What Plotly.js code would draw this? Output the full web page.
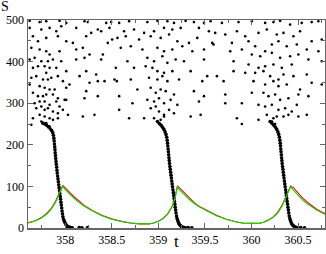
<!DOCTYPE html>
<html>
<head>
<meta charset="utf-8">
<script src="https://cdn.plot.ly/plotly-3.0.1.min.js"></script>
<style>
  html, body { margin: 0; padding: 0; background: #fff; }
  #chart { width: 326px; height: 254px; }
</style>
</head>
<body>
<div id="chart"></div>
<script>
// tick positions
const X_TICKS = [358, 358.5, 359, 359.5, 360, 360.5];
const Y_TICKS = [0, 100, 200, 300, 400, 500];

// sparse cloud of points, one list per cycle
const CLOUD_1_T = [357.618,357.725,357.796,357.939,358.011,358.207,358.243,358.44,358.493,
  357.618,357.743,357.832,357.904,357.957,358.118,358.279,358.35,358.475,
  357.653,357.707,357.796,357.921,358.011,358.082,358.225,358.386,358.457,358.504,
  357.636,357.725,357.796,357.832,357.939,358.118,358.189,358.261,358.404,
  357.618,357.671,357.743,357.814,357.868,357.957,358.118,358.207,358.386,
  357.653,357.707,357.779,357.832,357.796,357.904,358.011,358.154,358.225,358.332,358.422,358.529,
  357.636,357.689,357.761,357.814,357.85,357.921,357.975,358.046,358.261,358.35,
  357.618,357.725,357.779,357.832,357.886,358.011,358.225,
  357.653,357.707,357.761,357.796,357.868,357.921,357.993,358.35,
  357.671,357.725,357.779,357.832,357.904,357.939,358.011,358.207,
  357.689,357.743,357.779,357.814,357.868,357.921,357.975,358.029,358.189,358.314,
  357.653,357.725,357.779,357.832,357.868,357.921,
  357.636,357.743,357.796,357.832];
const CLOUD_1_S = [498,495,497,498,493,497,495,493,495,
  481,477,481,473,485,481,469,477,481,
  461,449,457,461,449,445,461,473,445,453,
  433,429,425,417,425,429,433,417,417,
  405,409,401,401,405,401,405,409,405,
  385,389,389,385,373,385,377,365,377,369,353,357,
  361,365,357,357,361,365,353,345,349,353,
  345,341,337,333,333,337,329,
  325,317,317,321,321,312,308,317,
  300,304,304,296,304,292,308,312,
  288,292,284,288,280,276,284,272,268,272,
  264,272,268,264,260,264,
  248,256,252,244];

const CLOUD_2_T = [358.579,358.686,358.882,358.99,359.097,359.168,359.293,359.382,359.49,359.561,
  358.632,358.739,358.847,358.954,359.061,359.15,359.24,359.436,359.543,
  358.561,358.65,358.793,358.918,359.025,359.115,359.204,359.329,359.418,359.579,
  358.596,358.704,358.829,358.99,359.061,359.15,359.257,359.365,359.49,
  358.668,358.882,358.954,359.043,359.097,359.186,359.275,359.49,
  358.543,358.739,358.864,358.936,358.99,359.061,359.15,359.347,359.525,
  358.554,358.704,358.9,358.99,359.043,359.097,359.222,359.472,
  358.579,358.775,358.918,358.972,359.025,359.079,359.168,359.382,359.49,
  358.722,358.882,358.954,359.007,359.061,359.132,359.204,359.436,
  358.686,358.847,358.918,358.972,359.007,359.061,359.115,359.168,359.347,359.454,
  358.579,358.954,359.025,359.061];
const CLOUD_2_S = [493,497,495,498,497,493,498,495,493,497,
  473,477,469,473,481,477,481,481,473,
  457,461,453,461,457,465,449,445,457,445,
  433,437,429,433,425,429,437,425,429,
  401,409,401,413,397,405,401,405,
  385,385,389,385,377,373,377,377,365,
  353,357,361,357,365,353,357,353,
  317,333,337,325,333,329,321,329,317,
  300,308,304,312,300,308,296,304,
  264,264,288,292,280,272,284,276,268,272,
  284,264,260,268];

const CLOUD_3_T = [359.683,359.861,360.004,360.147,360.236,360.308,360.415,360.54,360.647,360.719,
  359.611,359.719,359.844,359.933,360.076,360.165,360.272,360.344,360.451,360.522,360.755,
  359.593,359.79,359.969,360.04,360.219,360.29,360.379,360.487,360.594,360.647,
  359.772,359.897,360.004,360.094,360.147,360.219,360.308,360.415,360.504,360.719,
  359.808,359.969,360.076,360.147,360.236,360.326,360.433,360.612,360.755,
  359.808,359.933,360.04,360.129,360.201,360.29,360.344,360.451,360.594,
  359.629,359.701,360.022,360.147,360.236,360.29,360.379,360.522,360.647,360.755,
  359.719,360.004,360.129,360.183,360.254,360.308,360.397,360.504,360.612,
  359.719,359.897,360.076,360.147,360.219,360.29,360.362,360.433,360.487,
  359.844,359.897,360.076,360.165,360.236,360.272,360.344,360.397,360.504,360.594,
  360.219,360.254];
const CLOUD_3_S = [493,495,497,493,495,498,489,493,495,497,
  469,465,473,461,469,477,465,469,461,473,453,
  441,445,449,437,441,449,437,441,429,449,
  425,429,417,413,425,421,409,413,417,425,
  401,393,385,389,393,385,393,405,401,
  377,373,373,377,365,357,369,365,369,
  365,353,353,345,353,341,345,333,349,345,
  321,325,325,317,321,308,312,321,317,
  300,300,296,292,296,284,288,280,296,
  264,250,260,272,264,268,268,272,268,272,
  256,250];

// dense falling band of points, one list per cycle
const DENSE_1_T = [357.76,357.78,357.8,357.82,357.84,357.855,357.866,357.873,357.878,357.881,357.884,357.887,
  357.89,357.892,357.895,357.898,357.901,357.904,357.908,357.911,357.914,357.918,357.922,357.926,357.93,
  357.934,357.938,357.942,357.946,357.95,357.954,357.958,357.962,357.966,357.97,357.975,357.982,357.99,
  357.998,358.008,358.018,358.03,358.045,358.06,358.075,358.15,358.18,358.24];
const DENSE_1_S = [252,250,247,243,238,234,229,223,216,209,202,195,
  188,181,174,167,160,153,146,139,132,125,118,111,104,
  97,90,83,76,69,62,55,48,41,34,27,21,16,
  12,8,5,3,2,1,0.5,1,0.5,1];

const DENSE_2_T = [358.99,359.01,359.03,359.045,359.06,359.072,359.082,359.09,359.095,359.099,359.102,359.105,
  359.108,359.111,359.114,359.117,359.12,359.124,359.128,359.132,359.136,359.14,359.144,359.148,359.152,
  359.157,359.161,359.165,359.169,359.173,359.177,359.181,359.186,359.19,359.195,359.201,359.208,359.216,
  359.225,359.235,359.247,359.26,359.275,359.29,359.32,359.36];
const DENSE_2_S = [256,251,247,242,237,231,225,218,211,204,197,190,
  183,176,169,162,155,148,141,134,127,120,113,106,99,
  92,85,78,71,64,57,50,43,36,29,23,18,13,
  9,6,4,2,1,0.5,1,0.5];

const DENSE_3_T = [360.2,360.22,360.24,360.258,360.272,360.284,360.293,360.3,360.305,360.309,360.312,360.315,
  360.318,360.321,360.324,360.327,360.33,360.334,360.338,360.342,360.346,360.35,360.354,360.358,360.362,
  360.367,360.371,360.375,360.379,360.383,360.388,360.392,360.397,360.401,360.406,360.412,360.419,360.427,
  360.436,360.446,360.458,360.47,360.485,360.5,360.53,360.57];
const DENSE_3_S = [256,252,247,242,237,231,225,218,211,204,197,190,
  183,176,169,162,155,148,141,134,127,120,113,106,99,
  92,85,78,71,64,57,50,43,36,29,23,18,13,
  9,6,4,2,1,0.5,1,0.5];

// the two smooth curves
const CURVE_T = [357.6,357.65,357.7,357.75,357.8,357.85,357.9,357.93,357.955,357.975,358.0,358.05,358.1,358.15,
  358.2,358.3,358.4,358.5,358.6,358.7,358.8,358.9,358.95,359.0,359.05,359.1,359.15,359.18,359.195,359.205,
  359.23,359.28,359.33,359.38,359.43,359.53,359.63,359.73,359.83,359.93,360.03,360.08,360.13,360.18,360.23,
  360.28,360.33,360.37,360.395,360.42,360.45,360.5,360.55,360.6,360.65,360.7,360.75,360.8];
const GREEN_S = [12,15,19,25,33,45,63,80,93,100,92,80,70,61,
  53,40,29,21,16,12,10,10,12,16,22,33,52,72,88,99,
  91,79,69,60,52,40,29,21,15,11,10,11,14,18,25,
  35,53,74,88,99,91,78,67,58,50,43,37,32];
const RED_S = [13,15,20,26,35,47,66,83,95,102,97,85,74,64,
  55,41,30,22,16,12,10,10,12,16,23,34,53,74,90,101,
  96,84,72,62,53,41,30,21,15,11,10,11,14,19,26,
  37,55,76,90,101,97,84,72,62,53,45,39,34];

const SERIF = "Liberation Serif, Times New Roman, serif";

function dots(t, s, size) {
  return {x: t, y: s, mode: "markers", type: "scatter",
    marker: {color: "#000", size: size, line: {width: 0}}, hoverinfo: "skip"};
}

const DATA = [
  dots(CLOUD_1_T, CLOUD_1_S, 2.6),
  dots(CLOUD_2_T, CLOUD_2_S, 2.6),
  dots(CLOUD_3_T, CLOUD_3_S, 2.6),
  dots(DENSE_1_T, DENSE_1_S, 3.6),
  dots(DENSE_2_T, DENSE_2_S, 3.6),
  dots(DENSE_3_T, DENSE_3_S, 3.6),
  {x: CURVE_T, y: RED_S, mode: "lines", type: "scatter", line: {color: "#ff0000", width: 1.1}},
  {x: CURVE_T, y: GREEN_S, mode: "lines", type: "scatter", line: {color: "#00e000", width: 1.1}}
];

const axisBase = {
  showgrid: false, zeroline: false,
  showline: true, linecolor: "#666", linewidth: 1.5, mirror: "ticks",
  ticks: "inside", ticklen: 5, tickcolor: "#666", tickwidth: 1,
  tickfont: {family: SERIF, size: 12, color: "#000"}
};

const LAYOUT = {
  width: 326, height: 254,
  margin: {l: 28, r: 1, t: 20, b: 26},
  paper_bgcolor: "#fff", plot_bgcolor: "#fff",
  showlegend: false,
  xaxis: Object.assign({}, axisBase, {
    range: [357.6, 360.79], tickvals: X_TICKS,
    minor: {dtick: 0.25, tick0: 358, ticks: "inside", ticklen: 3, tickcolor: "#666"}
  }),
  yaxis: Object.assign({}, axisBase, {
    range: [0, 500], tickvals: Y_TICKS,
    minor: {dtick: 50, tick0: 0, ticks: "inside", ticklen: 3, tickcolor: "#666"}
  }),
  annotations: [
    {text: "S", xref: "paper", yref: "paper", x: -0.079, y: 1.067,
      xanchor: "center", yanchor: "middle", showarrow: false,
      font: {family: SERIF, size: 14, color: "#000"}},
    {text: "t", xref: "paper", yref: "paper", x: 0.5, y: -0.122,
      xanchor: "center", yanchor: "bottom", showarrow: false,
      font: {family: SERIF, size: 17, color: "#000"}}
  ]
};

Plotly.newPlot("chart", DATA, LAYOUT, {staticPlot: true, displayModeBar: false});
</script>
</body>
</html>
